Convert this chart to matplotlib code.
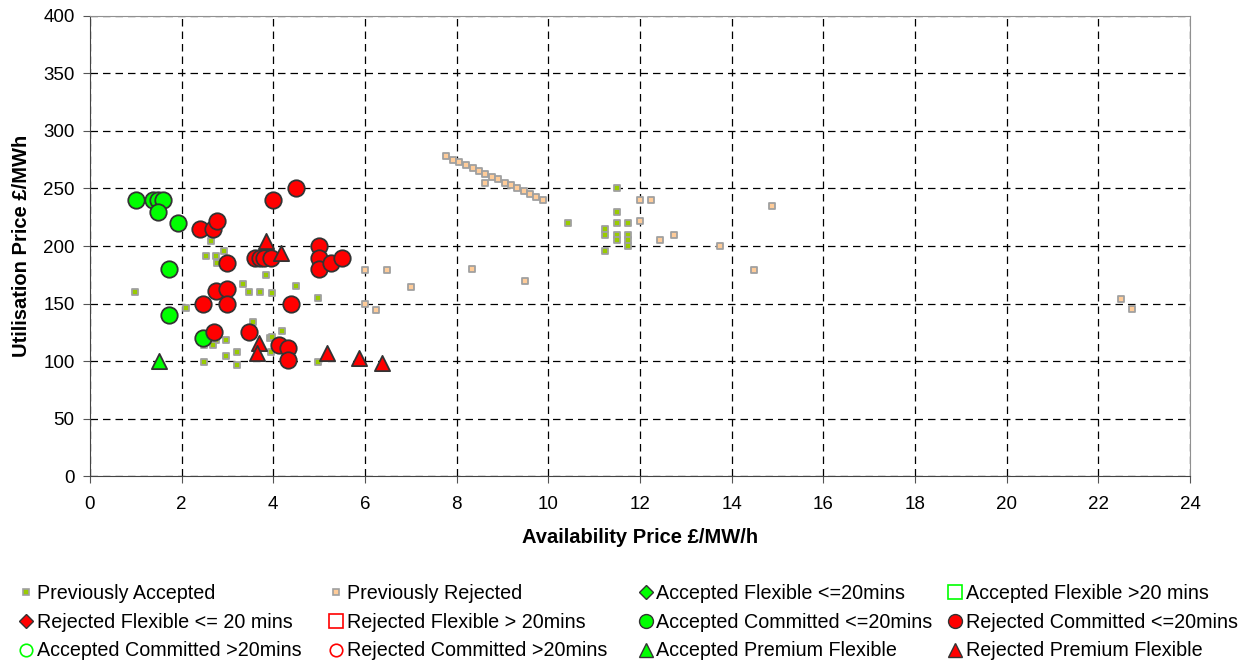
import matplotlib
matplotlib.use("Agg")
import matplotlib.pyplot as plt
from matplotlib.lines import Line2D

plt.rcParams['font.family'] = ['Liberation Sans', 'DejaVu Sans']

# Previously accepted tenders (availability £/MW/h, utilisation £/MWh)
prev_acc_x = [0.98, 2.63, 2.53, 2.76, 2.92, 2.78, 2.09, 3.33, 3.48, 3.72, 3.85, 3.56,
              2.76, 2.68, 2.49, 2.97, 3.21, 2.97, 2.49, 3.21, 3.98, 4.49, 4.98, 4.18,
              3.93, 3.98, 3.96, 4.98, 10.44, 11.49, 11.49, 11.49, 11.73, 11.24, 11.24,
              11.49, 11.73, 11.49, 11.73, 11.73, 11.24]
prev_acc_y = [160, 204, 191, 191, 196, 185, 146, 167, 160, 160, 175, 134,
              118, 114, 114, 118, 108, 104, 99, 97, 159, 165, 155, 126,
              120, 121, 108, 99, 220, 250, 230, 220, 220, 215, 210,
              210, 210, 205, 205, 200, 196]

# Previously rejected tenders
prev_rej_x = [7.77, 7.91, 8.06, 8.20, 8.35, 8.49, 8.62, 8.77, 8.91, 9.05, 9.18, 9.32,
              9.47, 9.60, 9.74, 9.89, 8.62, 8.33, 9.49, 5.99, 6.47, 7.0, 5.99, 6.23,
              11.99, 12.23, 11.99, 12.44, 12.74, 13.75, 14.89, 14.49, 22.5, 22.74]
prev_rej_y = [278, 275, 273, 270, 268, 265, 263, 260, 258, 255, 253, 250,
              248, 245, 243, 240, 255, 180, 170, 179, 179, 164, 150, 144,
              240, 240, 222, 205, 210, 200, 235, 179, 154, 145]

# Accepted committed <=20mins
acc_comm_x = [1.0, 1.38, 1.49, 1.6, 1.48, 1.93, 1.72, 1.72, 2.47]
acc_comm_y = [240, 240, 240, 240, 230, 220, 180, 140, 120]

# Rejected committed <=20mins
rej_comm_x = [4.0, 4.5, 2.4, 2.68, 2.78, 2.98, 2.76, 3.0, 2.47, 3.0, 2.71, 3.48,
              3.6, 3.7, 3.8, 3.95, 5.0, 5.0, 5.0, 5.25, 5.5, 4.38, 4.13, 4.33, 4.33]
rej_comm_y = [240, 250, 215, 215, 222, 185, 161, 163, 150, 150, 125, 125,
              190, 190, 190, 190, 200, 190, 180, 185, 190, 150, 114, 111, 101]

# Premium flexible
acc_prem_x = [1.5]
acc_prem_y = [100]
rej_prem_x = [3.85, 4.16, 3.69, 3.64, 5.18, 5.86, 6.38]
rej_prem_y = [204, 194, 116, 107, 107, 103, 98]

x_ticks = list(range(0, 25, 2))
y_ticks = list(range(0, 401, 50))

fig = plt.figure(figsize=(12.58, 6.64), dpi=100)
ax = fig.add_axes([0.0715, 0.283, 0.8745, 0.693])

ax.scatter(prev_acc_x, prev_acc_y, marker='s', s=22, facecolor='#99cc00',
           edgecolor='#a0a0a0', linewidth=1.3, zorder=3)
ax.scatter(prev_rej_x, prev_rej_y, marker='s', s=22, facecolor='#ffcc99',
           edgecolor='#a0a0a0', linewidth=1.3, zorder=3)
ax.scatter(acc_comm_x, acc_comm_y, marker='o', s=140, facecolor='#00ff00',
           edgecolor='#333333', linewidth=1.3, zorder=4)
ax.scatter(rej_comm_x, rej_comm_y, marker='o', s=140, facecolor='#ff0000',
           edgecolor='#333333', linewidth=1.3, zorder=5)
ax.scatter(acc_prem_x, acc_prem_y, marker='^', s=120, facecolor='#00ff00',
           edgecolor='#333333', linewidth=1.3, zorder=6)
ax.scatter(rej_prem_x, rej_prem_y, marker='^', s=120, facecolor='#ff0000',
           edgecolor='#333333', linewidth=1.3, zorder=6)

ax.set_xlim(0, 24)
ax.set_ylim(0, 400)
ax.set_xticks(x_ticks)
ax.set_yticks(y_ticks)
ax.tick_params(labelsize=13.5, direction='out', length=5, color='#555555')
ax.tick_params(axis='y', pad=6)
ax.tick_params(axis='x', pad=9)
ax.grid(True, color='black', linestyle=(0, (6, 4)), linewidth=0.9)
ax.set_axisbelow(True)
for side in ('top', 'right'):
    ax.spines[side].set_color('#909090')
for side in ('left', 'bottom'):
    ax.spines[side].set_color('#444444')

ax.set_xlabel('Availability Price £/MW/h', fontsize=14.5, fontweight='bold', labelpad=11)
ax.set_ylabel('Utilisation Price £/MWh', fontsize=14.5, fontweight='bold', labelpad=9)


def h(marker, face, edge, ms=7, mew=1):
    return Line2D([], [], linestyle='none', marker=marker, markerfacecolor=face,
                  markeredgecolor=edge, markersize=ms, markeredgewidth=mew)


legend_cols = [
    (0.005, [(h('s', '#99cc00', '#a0a0a0', 5, 1.2), 'Previously Accepted'),
             (h('D', '#ff0000', '#333333', 7), 'Rejected Flexible <= 20 mins'),
             (h('o', 'none', '#00ff00', 9, 1.2), 'Accepted Committed >20mins')]),
    (0.2515, [(h('s', '#ffcc99', '#a0a0a0', 5, 1.2), 'Previously Rejected'),
              (h('s', 'none', '#ff0000', 10, 1.2), 'Rejected Flexible > 20mins'),
              (h('o', 'none', '#ff0000', 9, 1.2), 'Rejected Committed >20mins')]),
    (0.4975, [(h('D', '#00ff00', '#333333', 7), 'Accepted Flexible <=20mins'),
              (h('o', '#00ff00', '#333333', 10), 'Accepted Committed <=20mins'),
              (h('^', '#00ff00', '#333333', 10), 'Accepted Premium Flexible')]),
    (0.7435, [(h('s', 'none', '#00ff00', 10, 1.2), 'Accepted Flexible >20 mins'),
              (h('o', '#ff0000', '#333333', 10), 'Rejected Committed <=20mins'),
              (h('^', '#ff0000', '#333333', 10), 'Rejected Premium Flexible')]),
]
for x0, items in legend_cols:
    fig.legend([i[0] for i in items], [i[1] for i in items], ncol=1,
               loc='lower left', bbox_to_anchor=(x0, -0.0125), frameon=False,
               fontsize=14.2, handlelength=0.8, handletextpad=0.15,
               labelspacing=0.5, borderaxespad=0.2)

fig.savefig('out.png', dpi=100)
